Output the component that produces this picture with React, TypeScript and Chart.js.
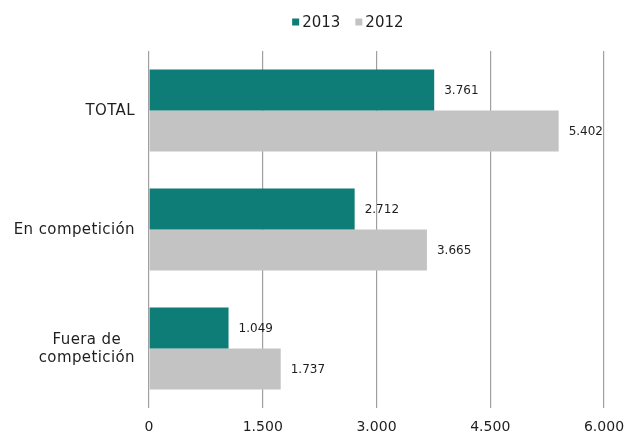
import React, { useEffect, useRef } from "react";
import { Chart, registerables } from "chart.js";

Chart.register(...registerables);

const categories: string[][] = [["TOTAL"], ["En competición"], ["Fuera de", "competición"]];
const seriesNames = ["2013", "2012"];
const values2013 = [3761, 2712, 1049];
const values2012 = [5402, 3665, 1737];
const xTicks = [0, 1500, 3000, 4500, 6000];

const TEAL = "#0f7d77";
const GRAY = "#c3c3c3";
const TEXT = "#1e1e1e";
const FONT = "DejaVu Sans";

const fmt = (n: number) => String(n).replace(/\B(?=(\d{3})+(?!\d))/g, ".");

const customPlugin = {
  id: "custom",
  afterDatasetsDraw(chart: any) {
    const ctx = chart.ctx;
    ctx.save();
    // value labels
    ctx.font = `12px ${FONT}`;
    ctx.fillStyle = TEXT;
    ctx.textAlign = "left";
    ctx.textBaseline = "middle";
    chart.data.datasets.forEach((ds: any, di: number) => {
      const meta = chart.getDatasetMeta(di);
      meta.data.forEach((bar: any, i: number) => {
        ctx.fillText(fmt(ds.data[i]), bar.x + 10, bar.y + 1);
      });
    });
    // category labels
    const yScale = chart.scales.y;
    ctx.font = `15px ${FONT}`;
    try { ctx.letterSpacing = "0.4px"; } catch (e) {}
    ctx.textAlign = "center";
    const right = chart.chartArea.left - 14;
    categories.forEach((lines, i) => {
      const cy = yScale.getPixelForValue(i) + 1;
      const w = Math.max(...lines.map((l) => ctx.measureText(l).width));
      const lh = 18;
      lines.forEach((l, j) => {
        const y = cy + (j - (lines.length - 1) / 2) * lh;
        ctx.fillText(l, right - w / 2, y);
      });
    });
    try { ctx.letterSpacing = "0px"; } catch (e) {}
    // legend
    ctx.font = `15px ${FONT}`;
    ctx.textAlign = "left";
    const box = 7;
    const gapBox = 3;
    const gapItem = 15;
    const widths = chart.data.datasets.map((ds: any) => box + gapBox + ctx.measureText(ds.label).width);
    const total = widths.reduce((a: number, b: number) => a + b, 0) + gapItem * (widths.length - 1);
    const ca = chart.chartArea;
    let x = ca.left + ca.width * 0.437 - total / 2;
    const ly = 14;
    chart.data.datasets.forEach((ds: any, di: number) => {
      ctx.fillStyle = ds.backgroundColor;
      ctx.fillRect(x, ly - box / 2, box, box);
      ctx.fillStyle = TEXT;
      ctx.fillText(ds.label, x + box + gapBox, ly + 1);
      x += widths[di] + gapItem;
    });
    ctx.restore();
  },
};

export default function App() {
  const ref = useRef<HTMLCanvasElement>(null);
  useEffect(() => {
    if (!ref.current) return;
    const chart = new Chart(ref.current, {
      type: "bar",
      data: {
        labels: categories.map((c) => c.join(" ")),
        datasets: [
          { label: seriesNames[0], data: values2013, backgroundColor: TEAL, borderWidth: 0 },
          { label: seriesNames[1], data: values2012, backgroundColor: GRAY, borderWidth: 0 },
        ],
      },
      options: {
        indexAxis: "y",
        animation: false,
        responsive: false,
        maintainAspectRatio: false,
        datasets: { bar: { categoryPercentage: 0.69, barPercentage: 1 } },
        layout: { padding: { left: 141, right: 22, top: 43, bottom: 0 } },
        plugins: { legend: { display: false }, tooltip: { enabled: false } },
        scales: {
          x: {
            min: 0,
            max: 6000,
            afterBuildTicks: (s: any) => {
              s.ticks = xTicks.map((v) => ({ value: v }));
            },
            afterFit: (s: any) => {
              s.height = 25;
              s.paddingLeft = 0;
              s.paddingRight = 0;
            },
            grid: { color: "#a0a0a0", lineWidth: 1.2, drawTicks: false },
            border: { display: false },
            ticks: {
              padding: 11,
              color: TEXT,
              font: { family: FONT, size: 14 },
              callback: (v: any) => fmt(Number(v)),
            },
          },
          y: { display: false },
        },
      },
      plugins: [customPlugin],
    });
    return () => chart.destroy();
  }, []);
  return (
    <div style={{ width: 618, height: 425 }}>
      <canvas ref={ref} width={618} height={425} style={{ display: "block" }} />
    </div>
  );
}
